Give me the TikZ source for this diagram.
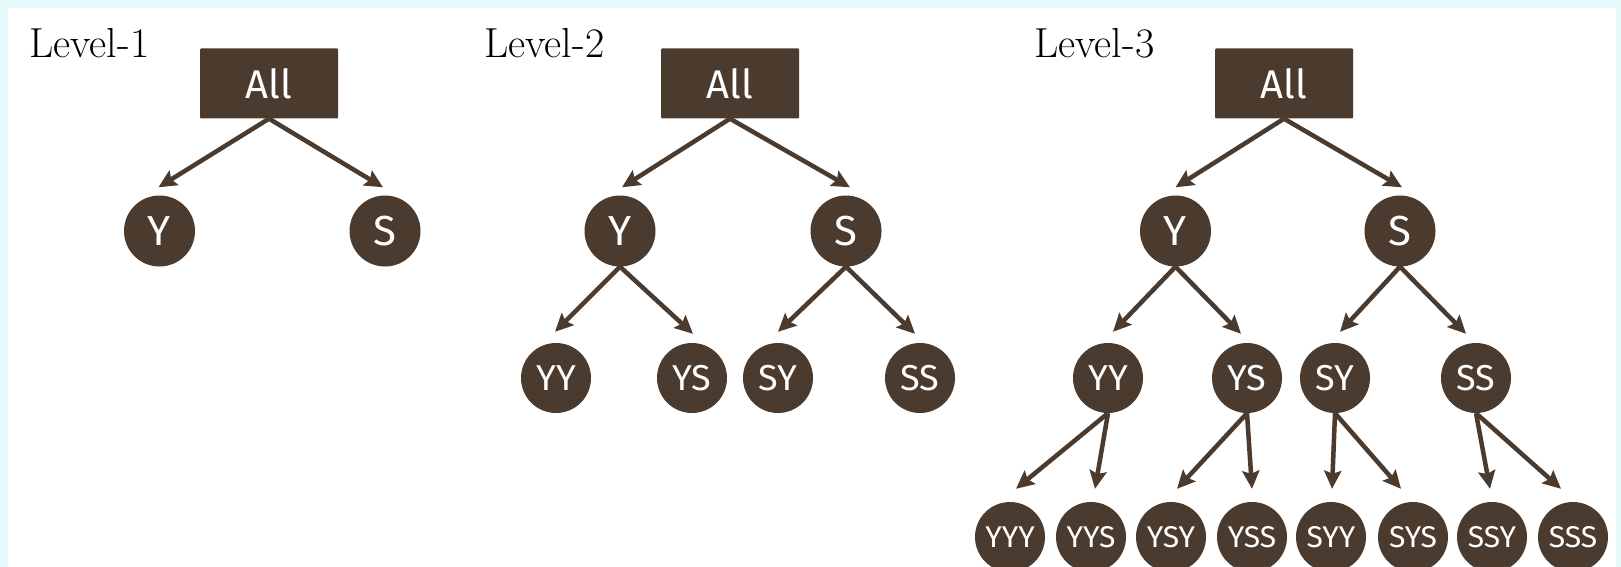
\documentclass[tikz,border=0pt]{standalone}
\usepackage{fontspec}
\newfontfamily\nodefont{Fira Sans}
\usetikzlibrary{arrows.meta,calc}
\definecolor{brn}{RGB}{75,58,46}
\definecolor{bgcyan}{RGB}{232,251,251}
\begin{document}
\begin{tikzpicture}[x=1pt,y=-1pt,
  lvl/.style={font=\fontsize{42}{44}\selectfont, anchor=base west, inner sep=0pt},
  allbox/.style={rectangle, fill=brn, minimum width=138pt, minimum height=70pt, inner sep=0pt, text=white, font=\nodefont\fontsize{40}{44}\selectfont, rounded corners=1pt},
  cA/.style={circle, fill=brn, minimum size=71pt, inner sep=0pt, text=white, font=\nodefont\fontsize{42}{44}\selectfont},
  cB/.style={cA, minimum size=70pt, font=\nodefont\fontsize{36}{40}\selectfont},
  cC/.style={cA, minimum size=70pt, font=\nodefont\fontsize{30}{34}\selectfont},
  arr/.style={draw=brn, line width=4.5pt, -{Stealth[length=18pt,width=17pt,inset=3pt]}}]
\useasboundingbox (0,0) rectangle (1621,567);
\fill[bgcyan] (0,0) rectangle (1621,567);
\fill[white] (8,8) rectangle (1616,567);

% labels
\node[lvl] (L1) at (29,58) {Level-1};
\node[lvl] (L2) at (484,58) {Level-2};
\node[lvl] (L3) at (1034,58) {Level-3};

% Level 1
\node[allbox] (A1) at (269,83.5) {All};
\node[cA] (Y1) at (159.5,231) {Y};
\node[cA] (S1) at (385,231) {S};
\draw[arr] (A1.south) -- ($(Y1.north)+(-1,-8)$);
\draw[arr] (A1.south) -- ($(S1.north)+(-2,-8)$);

% Level 2
\node[allbox] (A2) at (730,83.5) {All};
\node[cA] (Y2) at (620,231) {Y};
\node[cA] (S2) at (846,231) {S};
\node[cB] (YY2) at (556,378) {YY};
\node[cB] (YS2) at (692,378) {YS};
\node[cB] (SY2) at (778,378) {SY};
\node[cB] (SS2) at (920,378) {SS};
\draw[arr] (A2.south) -- ($(Y2.north)+(2,-8)$);
\draw[arr] (A2.south) -- ($(S2.north)+(4,-8)$);
\draw[arr] (Y2.south) -- ($(YY2.north)+(-1,-11)$);
\draw[arr] (Y2.south) -- ($(YS2.north)+(1,-9)$);
\draw[arr] (S2.south) -- ($(SY2.north)+(0,-11)$);
\draw[arr] (S2.south) -- ($(SS2.north)+(-5,-9)$);

% Level 3
\node[allbox] (A3) at (1284,83.5) {All};
\node[cA] (Y3) at (1175.5,231) {Y};
\node[cA] (S3) at (1400,231) {S};
\node[cB] (YY3) at (1108,378) {YY};
\node[cB] (YS3) at (1247,378) {YS};
\node[cB] (SY3) at (1335,378) {SY};
\node[cB] (SS3) at (1476,378) {SS};
\node[cC] (YYY) at (1010,537) {YYY};
\node[cC] (YYS) at (1091,537) {YYS};
\node[cC] (YSY) at (1171,537) {YSY};
\node[cC] (YSS) at (1252,537) {YSS};
\node[cC] (SYY) at (1331,537) {SYY};
\node[cC] (SYS) at (1413,537) {SYS};
\node[cC] (SSY) at (1492,537) {SSY};
\node[cC] (SSS) at (1573,537) {SSS};
\draw[arr] (A3.south) -- ($(Y3.north)+(0,-8)$);
\draw[arr] (A3.south) -- ($(S3.north)+(2,-8)$);
\draw[arr] (Y3.south) -- ($(YY3.north)+(5,-11)$);
\draw[arr] (Y3.south) -- ($(YS3.north)+(-6,-9)$);
\draw[arr] (S3.south) -- ($(SY3.north)+(5,-11)$);
\draw[arr] (S3.south) -- ($(SS3.north)+(-10,-9)$);
\draw[arr] (YY3.south) -- ($(YYY.north)+(6,-13)$);
\draw[arr] (YY3.south) -- ($(YYS.north)+(4,-13)$);
\draw[arr] (YS3.south) -- ($(YSY.north)+(6,-13)$);
\draw[arr] (YS3.south) -- ($(YSS.north)+(0,-13)$);
\draw[arr] (SY3.south) -- ($(SYY.north)+(1,-13)$);
\draw[arr] (SY3.south) -- ($(SYS.north)+(-12,-13)$);
\draw[arr] (SS3.south) -- ($(SSY.north)+(-2,-13)$);
\draw[arr] (SS3.south) -- ($(SSS.north)+(-12,-13)$);
\end{tikzpicture}
\end{document}
